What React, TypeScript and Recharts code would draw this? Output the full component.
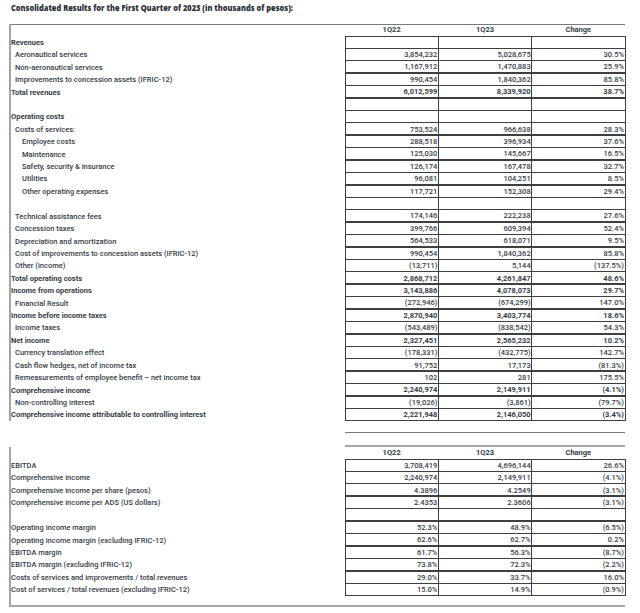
import React from "react";
import { Bar, BarChart, LabelList, XAxis, YAxis } from "recharts";

const TITLE = "Consolidated Results for the First Quarter of 2023 (in thousands of pesos):";
const COLUMNS = ["1Q22", "1Q23", "Change"];

const RESULT_LABELS = [
  "Revenues",
  "Aeronautical services",
  "Non-aeronautical services",
  "Improvements to concession assets (IFRIC-12)",
  "Total revenues",
  "",
  "Operating costs",
  "Costs of services:",
  "Employee costs",
  "Maintenance",
  "Safety, security & insurance",
  "Utilities",
  "Other operating expenses",
  "",
  "Technical assistance fees",
  "Concession taxes",
  "Depreciation and amortization",
  "Cost of improvements to concession assets (IFRIC-12)",
  "Other (income)",
  "Total operating costs",
  "Income from operations",
  "Financial Result",
  "Income before income taxes",
  "Income taxes",
  "Net income",
  "Currency translation effect",
  "Cash flow hedges, net of income tax",
  "Remeasurements of employee benefit \u2013 net income tax",
  "Comprehensive income",
  "Non-controlling interest",
  "Comprehensive income attributable to controlling interest",
];
const RESULT_1Q22 = [
  "", "3,854,232", "1,167,912", "990,454", "6,012,599", "", "", "753,524", "288,518", "125,030",
  "126,174", "96,081", "117,721", "", "174,146", "399,766", "564,533", "990,454", "(13,711)", "2,868,712",
  "3,143,886", "(272,946)", "2,870,940", "(543,489)", "2,327,451", "(178,331)", "91,752", "102", "2,240,974", "(19,026)",
  "2,221,948",
];
const RESULT_1Q23 = [
  "", "5,028,675", "1,470,883", "1,840,362", "8,339,920", "", "", "966,638", "396,934", "145,667",
  "167,478", "104,251", "152,308", "", "222,238", "609,394", "618,071", "1,840,362", "5,144", "4,261,847",
  "4,078,073", "(674,299)", "3,403,774", "(838,542)", "2,565,232", "(432,775)", "17,173", "281", "2,149,911", "(3,861)",
  "2,146,050",
];
const RESULT_CHANGE = [
  "", "30.5%", "25.9%", "85.8%", "38.7%", "", "", "28.3%", "37.6%", "16.5%",
  "32.7%", "8.5%", "29.4%", "", "27.6%", "52.4%", "9.5%", "85.8%", "(137.5%)", "48.6%",
  "29.7%", "147.0%", "18.6%", "54.3%", "10.2%", "142.7%", "(81.3%)", "175.5%", "(4.1%)", "(79.7%)",
  "(3.4%)",
];

// row styling: indent level and bold rows
const RESULT_INDENT = [0, 1, 1, 1, 0, 0, 0, 1, 2, 2, 2, 2, 2, 0, 1, 1, 1, 1, 1, 0, 0, 1, 0, 1, 0, 1, 1, 1, 0, 1, 0];
const RESULT_BOLD = [0, 4, 6, 19, 20, 22, 24, 28, 30];

const RATIO_LABELS = [
  "EBITDA",
  "Comprehensive income",
  "Comprehensive income per share (pesos)",
  "Comprehensive income per ADS (US dollars)",
  "",
  "Operating income margin",
  "Operating income margin (excluding IFRIC-12)",
  "EBITDA margin",
  "EBITDA margin (excluding IFRIC-12)",
  "Costs of services and improvements / total revenues",
  "Cost of services / total revenues (excluding IFRIC-12)",
];
const RATIO_1Q22 = ["3,708,419", "2,240,974", "4.3896", "2.4353", "", "52.3%", "62.6%", "61.7%", "73.8%", "29.0%", "15.0%"];
const RATIO_1Q23 = ["4,696,144", "2,149,911", "4.2549", "2.3606", "", "48.9%", "62.7%", "56.3%", "72.3%", "33.7%", "14.9%"];
const RATIO_CHANGE = ["26.6%", "(4.1%)", "(3.1%)", "(3.1%)", "", "(6.5%)", "0.2%", "(8.7%)", "(2.2%)", "16.0%", "(0.9%)"];

const FONT = "Roboto, 'Noto Sans', sans-serif";
const TEXT = "#363c46";
const GRID = "#3f3f3f";
const FRAME = "#a6a6a6";
const INDENT_X = [1, 5, 12];

interface TableProps {
  labels: string[];
  q22: string[];
  q23: string[];
  change: string[];
  indent: number[];
  bold: number[];
  height: number;
  headerHeight: number;
}

function FinTable({ labels, q22, q23, change, indent, bold, height, headerHeight }: TableProps) {
  const data = labels.map((label, i) => ({
    key: `r${i}`,
    label,
    q22: q22[i],
    q23: q23[i],
    change: change[i],
    c1: 1,
    c2: 1,
    c3: 1,
  }));
  const isBold = (i: number) => bold.includes(i);

  const rowTick = (props: any) => {
    const i = Number(String(props.payload.value).slice(1));
    return (
      <text
        x={INDENT_X[indent[i]]}
        y={props.y}
        dy="0.35em"
        fontSize={7.5}
        fontFamily={FONT}
        fontWeight={isBold(i) ? 700 : 500}
        fill={TEXT}
      >
        {labels[i]}
      </text>
    );
  };

  const headTick = (props: any) => (
    <text
      x={props.x}
      y={props.y}
      dy={-4.5}
      textAnchor="middle"
      fontSize={7.5}
      fontFamily={FONT}
      fontWeight={700}
      fill={TEXT}
    >
      {COLUMNS[Math.floor(props.payload.value)]}
    </text>
  );

  const cell = (props: any) => {
    const { x, y, width, height: h, value, index } = props;
    return (
      <text
        x={Number(x) + Number(width) - 1}
        y={Number(y) + Number(h) / 2}
        dy="0.35em"
        textAnchor="end"
        fontSize={7.5}
        fontFamily={FONT}
        fontWeight={isBold(index) ? 700 : 500}
        fill={TEXT}
      >
        {value}
      </text>
    );
  };

  return (
    <BarChart
      layout="vertical"
      width={616}
      height={height}
      data={data}
      margin={{ top: 0, right: 1, bottom: 1, left: 0 }}
      barCategoryGap={0}
      barGap={0}
    >
      <XAxis
        type="number"
        domain={[0, 3]}
        ticks={[0.5, 1.5, 2.5]}
        orientation="top"
        height={headerHeight}
        axisLine={false}
        tickLine={false}
        tickSize={0}
        tickMargin={0}
        interval={0}
        tick={headTick}
      />
      <YAxis
        type="category"
        dataKey="key"
        width={335}
        axisLine={false}
        tickLine={false}
        interval={0}
        tick={rowTick}
      />
      <Bar dataKey="c1" stackId="cells" fill="#fff" stroke={GRID} strokeWidth={1} shapeRendering="crispEdges" isAnimationActive={false}>
        <LabelList dataKey="q22" content={cell} />
      </Bar>
      <Bar dataKey="c2" stackId="cells" fill="#fff" stroke={GRID} strokeWidth={1} shapeRendering="crispEdges" isAnimationActive={false}>
        <LabelList dataKey="q23" content={cell} />
      </Bar>
      <Bar dataKey="c3" stackId="cells" fill="#fff" stroke={GRID} strokeWidth={1} shapeRendering="crispEdges" isAnimationActive={false}>
        <LabelList dataKey="change" content={cell} />
      </Bar>
    </BarChart>
  );
}

const line = (left: number, top: number, width: number, height: number, color: string) => (
  <div style={{ position: "absolute", left, top, width, height, background: color }} />
);

export default function App() {
  return (
    <div
      style={{
        position: "absolute",
        left: 0,
        top: 0,
        width: 640,
        height: 613,
        background: "#fff",
        fontFamily: FONT,
        overflow: "hidden",
      }}
    >
      <svg width={640} height={16} style={{ position: "absolute", left: 0, top: 0 }}>
        <text
          x={11}
          y={10.5}
          fontSize={7.8}
          fontFamily="'Open Sans', sans-serif"
          fontWeight={800}
          fill="#2a303a"
          textLength={282}
          lengthAdjust="spacingAndGlyphs"
        >
          {TITLE}
        </text>
      </svg>

      {line(10, 24, 615, 1, "#7a7a7a")}
      {line(9, 24, 2, 397, FRAME)}
      <div style={{ position: "absolute", left: 10, top: 25 }}>
        <FinTable
          labels={RESULT_LABELS}
          q22={RESULT_1Q22}
          q23={RESULT_1Q23}
          change={RESULT_CHANGE}
          indent={RESULT_INDENT}
          bold={RESULT_BOLD}
          height={397}
          headerHeight={11}
        />
      </div>

      {line(345, 432, 280, 1, "#7a7a7a")}
      {line(345, 445, 280, 2, FRAME)}
      {line(9, 447, 2, 160, FRAME)}
      {line(9, 605, 616, 2, FRAME)}
      <div style={{ position: "absolute", left: 10, top: 446 }}>
        <FinTable
          labels={RATIO_LABELS}
          q22={RATIO_1Q22}
          q23={RATIO_1Q23}
          change={RATIO_CHANGE}
          indent={RATIO_LABELS.map(() => 0)}
          bold={[]}
          height={151}
          headerHeight={13}
        />
      </div>
    </div>
  );
}
